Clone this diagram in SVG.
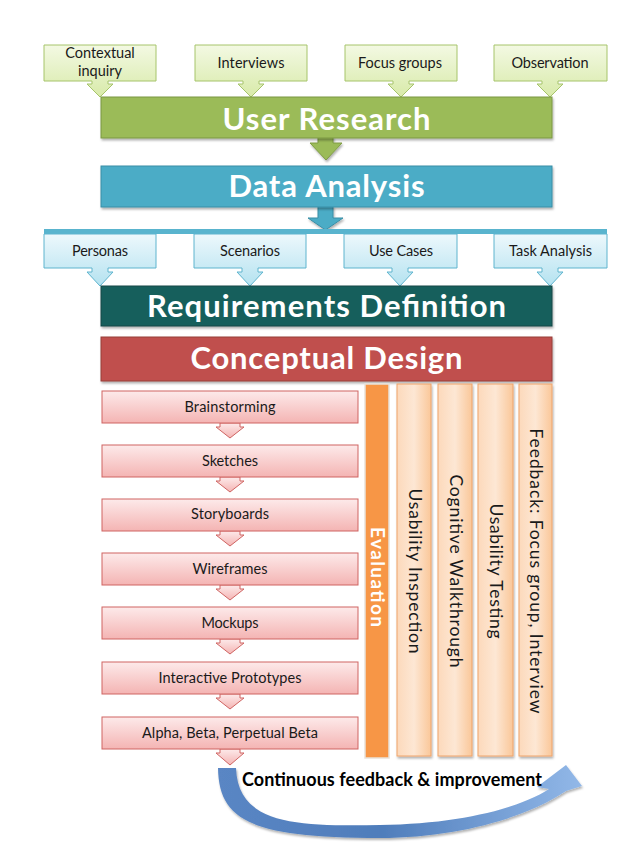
<svg xmlns="http://www.w3.org/2000/svg" width="638" height="851" viewBox="0 0 638 851">
<defs>
<linearGradient id="gGreen" x1="0" y1="0" x2="0" y2="1"><stop offset="0" stop-color="#F3F9E3"/><stop offset="1" stop-color="#D8EAA9"/></linearGradient>
<linearGradient id="gBlue" x1="0" y1="0" x2="0" y2="1"><stop offset="0" stop-color="#EDF8FC"/><stop offset="1" stop-color="#B4E2F0"/></linearGradient>
<linearGradient id="gPink" x1="0" y1="0" x2="0" y2="1"><stop offset="0" stop-color="#FDEAEA"/><stop offset="1" stop-color="#F4B4B3"/></linearGradient>
<linearGradient id="gOrange" x1="0" y1="0" x2="1" y2="0"><stop offset="0" stop-color="#FCD9BB"/><stop offset="0.5" stop-color="#FDE7D4"/><stop offset="1" stop-color="#FAC799"/></linearGradient>
<linearGradient id="gCurve" gradientUnits="userSpaceOnUse" x1="218" y1="800" x2="582" y2="800"><stop offset="0" stop-color="#5A86C4"/><stop offset="0.45" stop-color="#4F7DBB"/><stop offset="1" stop-color="#92B8E8"/></linearGradient>
<filter id="sh" x="-10%" y="-10%" width="120%" height="130%"><feDropShadow dx="1" dy="2" stdDeviation="1.2" flood-color="#000" flood-opacity="0.3"/></filter>
</defs>
<style>
.t{font-family:Lato,"Open Sans","Liberation Sans",sans-serif;}
.sm{font-size:14.5px;fill:#1a1a1a;text-anchor:middle;}
.big{font-size:31px;font-weight:bold;fill:#fff;text-anchor:middle;}
.vt{font-size:17.5px;fill:#1a1a1a;text-anchor:middle;}
.cg{fill:url(#gGreen);stroke:#A6C46A;stroke-width:1;}
.cb{fill:url(#gBlue);stroke:#5FB4CE;stroke-width:1;}
.cp{fill:url(#gPink);stroke:#CF6462;stroke-width:1;}
.co{fill:url(#gOrange);stroke:#EFA46A;stroke-width:1;}
</style>
<rect width="638" height="851" fill="#fff"/>

<g id="connectors">
<path d="M318,136 H333 V143 H342 L326,160 L310,143 H318 Z" fill="#9BBB59" stroke="#7E9B45" stroke-width="1" filter="url(#sh)"/>
<path d="M318,206 H333 V218 H343 L325.5,230 L308,218 H318 Z" fill="#4BACC6" stroke="#3A8EA6" stroke-width="1" filter="url(#sh)"/>
<rect x="44" y="229" width="563" height="5" fill="#59B4CE"/>
<path class="cp" d="M220,423 H240 V427 H244 L230,438 L216,427 H220 Z"/>
<path class="cp" d="M220,477 H240 V481 H244 L230,492 L216,481 H220 Z"/>
<path class="cp" d="M220,531 H240 V535 H244 L230,546 L216,535 H220 Z"/>
<path class="cp" d="M220,585 H240 V589 H244 L230,600 L216,589 H220 Z"/>
<path class="cp" d="M220,639 H240 V643 H244 L230,654 L216,643 H220 Z"/>
<path class="cp" d="M220,694 H240 V698 H244 L230,709 L216,698 H220 Z"/>
<path class="cp" d="M220,749 H240 V753 H244 L230,765 L216,753 H220 Z"/>
<path d="M218,768 C219,820 250,838 380,838 C458,838 528,817 566,791 L582,786 L566,765 L537,787 L549,789 C520,808 460,824 380,825 C300,826 238,826 236,768 Z" fill="url(#gCurve)" filter="url(#sh)"/>
</g>

<g id="contextual-inquiry">
<path class="cg" d="M44,45 H156 V81 H108 V84 H113 L100,97 L87,84 H92 V81 H44 Z"/>
<text class="t sm" x="100" y="58">Contextual</text>
<text class="t sm" x="100" y="76">inquiry</text>
</g>
<g id="interviews">
<path class="cg" d="M195,45 H307 V81 H259 V84 H264 L251,97 L238,84 H243 V81 H195 Z"/>
<text class="t sm" x="251" y="68" textLength="67">Interviews</text>
</g>
<g id="focus-groups">
<path class="cg" d="M345,45 H457 V81 H409 V84 H414 L401,97 L388,84 H393 V81 H345 Z"/>
<text class="t sm" x="400" y="68" textLength="84">Focus groups</text>
</g>
<g id="observation">
<path class="cg" d="M494,45 H607 V81 H558 V84 H563 L550,97 L537,84 H542 V81 H494 Z"/>
<text class="t sm" x="550" y="68" textLength="77">Observation</text>
</g>

<g id="user-research">
<rect x="101" y="97" width="451" height="41" fill="#9BBB59" stroke="#7A9744" stroke-width="1" filter="url(#sh)"/>
<text class="t big" x="326.5" y="130" textLength="208">User Research</text>
</g>
<g id="data-analysis">
<rect x="101" y="166" width="451" height="41" fill="#4BACC6" stroke="#3A8EA6" stroke-width="1" filter="url(#sh)"/>
<text class="t big" x="326.5" y="197" textLength="196">Data Analysis</text>
</g>

<g id="personas">
<path class="cb" d="M44,234 H156 V268 H108 V272 H113 L100,286 L87,272 H92 V268 H44 Z"/>
<text class="t sm" x="100" y="256" textLength="56">Personas</text>
</g>
<g id="scenarios">
<path class="cb" d="M194,234 H306 V268 H258 V272 H263 L250,286 L237,272 H242 V268 H194 Z"/>
<text class="t sm" x="250" y="256" textLength="60">Scenarios</text>
</g>
<g id="use-cases">
<path class="cb" d="M344,234 H457 V268 H408 V272 H413 L400,286 L387,272 H392 V268 H344 Z"/>
<text class="t sm" x="401" y="256" textLength="64">Use Cases</text>
</g>
<g id="task-analysis">
<path class="cb" d="M494,234 H607 V268 H558 V272 H563 L550,286 L537,272 H542 V268 H494 Z"/>
<text class="t sm" x="550.5" y="256" textLength="83">Task Analysis</text>
</g>

<g id="requirements-definition">
<rect x="101" y="286" width="451" height="40" fill="#175E5C" stroke="#0F4746" stroke-width="1" filter="url(#sh)"/>
<text class="t big" x="326.5" y="317" textLength="359">Requirements Definition</text>
</g>
<g id="conceptual-design">
<rect x="101" y="337" width="451" height="44" fill="#C0504D" stroke="#963C3A" stroke-width="1" filter="url(#sh)"/>
<text class="t big" x="326.5" y="369" textLength="272">Conceptual Design</text>
</g>

<g id="brainstorming"><rect class="cp" x="102" y="391" width="256" height="32"/><text class="t sm" x="230" y="412" textLength="91">Brainstorming</text></g>
<g id="sketches"><rect class="cp" x="102" y="445" width="256" height="32"/><text class="t sm" x="230" y="466" textLength="56">Sketches</text></g>
<g id="storyboards"><rect class="cp" x="102" y="499" width="256" height="32"/><text class="t sm" x="230" y="519" textLength="78">Storyboards</text></g>
<g id="wireframes"><rect class="cp" x="102" y="553" width="256" height="32"/><text class="t sm" x="230" y="574" textLength="75">Wireframes</text></g>
<g id="mockups"><rect class="cp" x="102" y="607" width="256" height="32"/><text class="t sm" x="230" y="628" textLength="57">Mockups</text></g>
<g id="interactive-prototypes"><rect class="cp" x="102" y="662" width="256" height="32"/><text class="t sm" x="230" y="683" textLength="143">Interactive Prototypes</text></g>
<g id="alpha-beta"><rect class="cp" x="102" y="717" width="256" height="32"/><text class="t sm" x="230" y="738" textLength="176">Alpha, Beta, Perpetual Beta</text></g>

<g id="evaluation">
<rect x="365" y="384" width="24" height="374" fill="#F79646" stroke="#E9E2DA" stroke-width="1.5"/>
<text class="t" x="0" y="0" transform="translate(370.5,577) rotate(90)" font-size="19" font-weight="bold" fill="#fff" text-anchor="middle" textLength="100">Evaluation</text>
</g>
<g id="usability-inspection">
<rect class="co" x="397" y="384" width="34" height="372" filter="url(#sh)"/>
<text class="t vt" transform="translate(408.5,571) rotate(90)" textLength="165">Usability Inspection</text>
</g>
<g id="cognitive-walkthrough">
<rect class="co" x="438" y="384" width="34" height="372" filter="url(#sh)"/>
<text class="t vt" transform="translate(449.5,571) rotate(90)" textLength="193">Cognitive Walkthrough</text>
</g>
<g id="usability-testing">
<rect class="co" x="478" y="384" width="35" height="372" filter="url(#sh)"/>
<text class="t vt" transform="translate(490,571) rotate(90)" textLength="135">Usability Testing</text>
</g>
<g id="feedback">
<rect class="co" x="519" y="384" width="33" height="372" filter="url(#sh)"/>
<text class="t vt" transform="translate(530,571) rotate(90)" textLength="285">Feedback: Focus group, Interview</text>
</g>

<g id="continuous-feedback">
<text class="t" x="392" y="786" font-size="18" font-weight="bold" fill="#000" text-anchor="middle" textLength="300">Continuous feedback &amp; improvement</text>
</g>
</svg>
